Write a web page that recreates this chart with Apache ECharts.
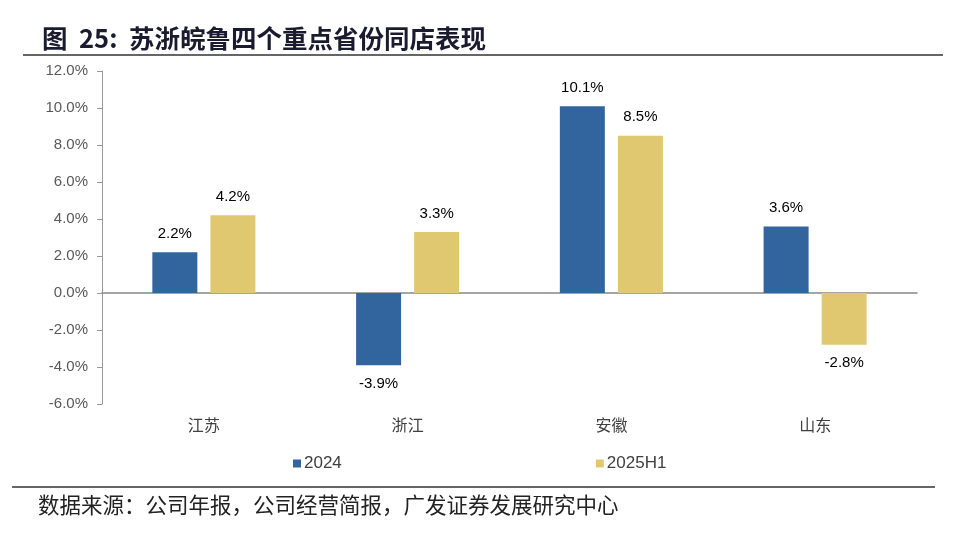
<!DOCTYPE html>
<html><head><meta charset="utf-8">
<script src="https://cdn.jsdelivr.net/npm/echarts@6/dist/echarts.min.js"></script>
<style>html,body{margin:0;padding:0;background:#fff}#c{width:968px;height:536px}</style>
</head><body><div id="c"></div>
<script>
const categories = ['江苏', '浙江', '安徽', '山东'];
const s2024 = [2.2, -3.9, 10.1, 3.6];
const s2025H1 = [4.2, 3.3, 8.5, -2.8];
const seriesNames = ['2024', '2025H1'];

const chart = echarts.init(document.getElementById('c'));
const lbl = {show: true, formatter: p => p.value.toFixed(1) + '%', color: '#000', fontSize: 15, fontFamily: 'Arial, Liberation Sans', distance: 11};
const toItems = arr => arr.map(v => ({value: v, label: {position: v >= 0 ? 'top' : 'bottom'}}));
const baseGraphic = [
  {type: 'line', shape: {x1: 23, y1: 55, x2: 943, y2: 55}, style: {stroke: '#333', lineWidth: 1.5}},
  {type: 'line', shape: {x1: 12, y1: 487, x2: 935, y2: 487}, style: {stroke: '#333', lineWidth: 1.5}},
  {type: 'text', left: 38, top: 494, style: {text: '数据来源：公司年报，公司经营简报，广发证券发展研究中心', fontSize: 21.5, fill: '#222', fontFamily: 'Noto Sans CJK SC'}}
];
chart.setOption({
  animation: false,
  title: {text: '图  25:  苏浙皖鲁四个重点省份同店表现', left: 37, top: 21,
    textStyle: {fontSize: 25.5, fontWeight: 'bold', color: '#1b1b2f', fontFamily: 'Noto Sans CJK SC'}},
  graphic: baseGraphic,
  legend: {data: seriesNames, left: 288, top: 450, itemGap: 254, itemWidth: 8, itemHeight: 8, icon: 'rect',
    textStyle: {fontSize: 17, color: '#404040', fontFamily: 'Arial, Liberation Sans', padding: [0, 0, 0, -2]}},
  grid: {left: 102, right: 51, top: 71, bottom: 132},
  xAxis: {type: 'category', data: categories, axisLine: {onZero: true, lineStyle: {color: '#888', width: 1.5}},
    axisTick: {show: false}, axisLabel: {show: false}},
  yAxis: {type: 'value', min: -6, max: 12, interval: 2,
    axisLine: {show: true, lineStyle: {color: '#999'}}, axisTick: {show: true, length: 5, lineStyle: {color: '#999'}},
    splitLine: {show: false},
    axisLabel: {formatter: v => v.toFixed(1) + '%', fontSize: 15, color: '#595959', fontFamily: 'Arial, Liberation Sans', margin: 14}},
  series: [
    {name: seriesNames[0], type: 'bar', data: toItems(s2024), barWidth: 45, barGap: '29%', itemStyle: {color: '#32659E'}, label: lbl},
    {name: seriesNames[1], type: 'bar', data: toItems(s2025H1), barWidth: 45, itemStyle: {color: '#E0C871'}, label: lbl}
  ]
});
chart.setOption({graphic: baseGraphic.concat(categories.map((c, i) => {
  const x = chart.convertToPixel({xAxisIndex: 0}, c);
  return {type: 'text', x: x, y: 425, style: {text: c, fontSize: 16, fill: '#404040', align: 'center', verticalAlign: 'middle', fontFamily: 'Noto Sans CJK SC'}};
}))}, {replaceMerge: ['graphic']});
</script></body></html>
